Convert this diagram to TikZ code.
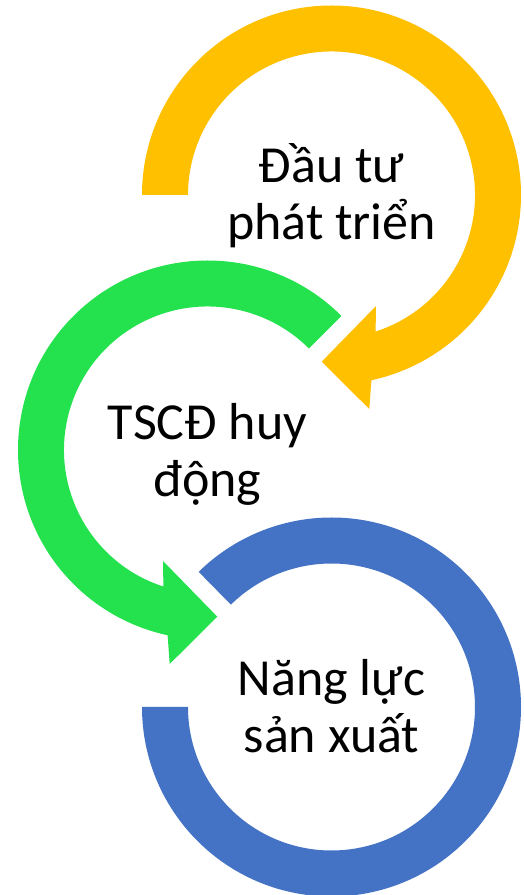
\documentclass[tikz,border=0pt]{standalone}
\usepackage{fontspec}
\setmainfont{Carlito}
\usetikzlibrary{calc}
\definecolor{ringyellow}{HTML}{FFC000}
\definecolor{ringgreen}{RGB}{35,226,77}
\definecolor{ringblue}{HTML}{4472C4}
\tikzset{
  ringfill/.style={fill=#1, draw=none},
  steplabel/.style={align=center, anchor=base, inner sep=0pt, text=black,
    font=\fontsize{52}{57.5}\selectfont}
}
\begin{document}
\begin{tikzpicture}[x=1pt,y=1pt]
\useasboundingbox[fill=white] (0,0) rectangle (523,895);
\def\Ro{189.5}
\def\Ri{143.5}
\coordinate (cy) at (331.5,700);
\coordinate (cg) at (207.5,445);
\coordinate (cb) at (331.5,188);
% yellow arrow
\coordinate (yOB) at (369.3,486);
\coordinate (yT) at (321.7,533.3);
\coordinate (yIB) at (376,589);
\fill[ringfill=ringyellow] ($(cy)+(180:\Ro)$) arc[start angle=180, end angle=-77.85, radius=\Ro]
  -- (yOB) -- (yT) -- (yIB) -- ($(cy)+(-72.1:\Ri)$)
  arc[start angle=-72.1, end angle=180, radius=\Ri] -- cycle;
% green arrow
\coordinate (gOB) at (169.7,231);
\coordinate (gT) at (217.3,278.3);
\coordinate (gIB) at (163,334);
\fill[ringfill=ringgreen] ($(cg)+(45:\Ro)$) arc[start angle=45, end angle=257.85, radius=\Ro]
  -- (gOB) -- (gT) -- (gIB) -- ($(cg)+(252.1:\Ri)$)
  arc[start angle=252.1, end angle=45, radius=\Ri] -- cycle;
% blue ring
\fill[ringfill=ringblue] ($(cb)+(180:\Ro)$) arc[start angle=180, end angle=494.5, radius=\Ro]
  -- ($(cb)+(494.5:\Ri)$) arc[start angle=494.5, end angle=180, radius=\Ri] -- cycle;
% labels (base anchor = baseline of the last line)
\node[steplabel] (ytext) at (331.5,655) {Đầu tư\\phát triển};
\node[steplabel] (gtext) at (207.5,398) {TSCĐ huy\\động};
\node[steplabel] (btext) at (331.5,142) {Năng lực\\sản xuất};
\end{tikzpicture}
\end{document}
